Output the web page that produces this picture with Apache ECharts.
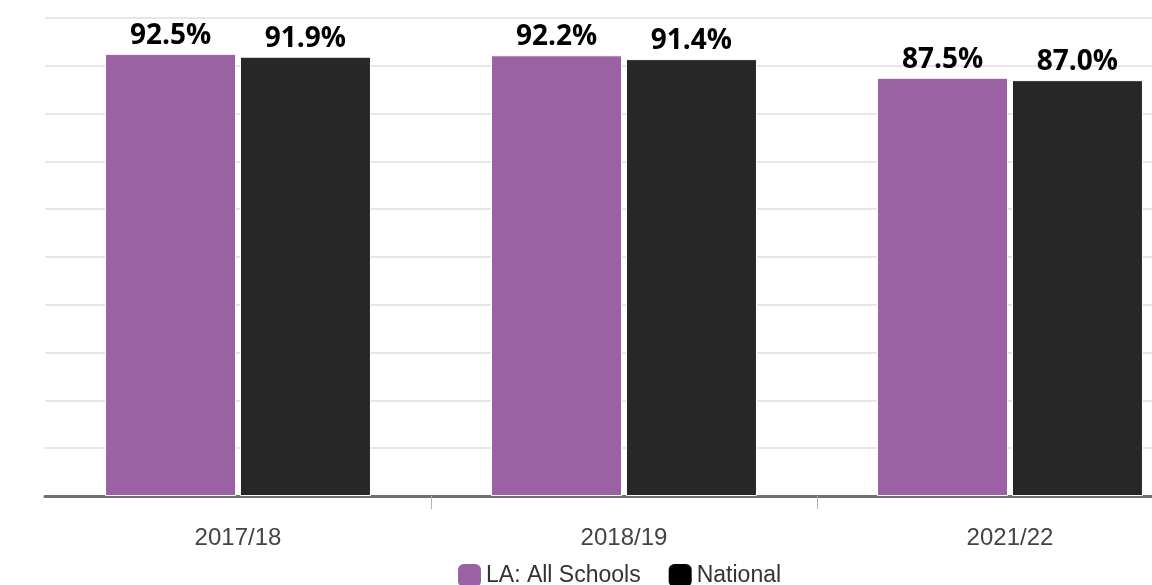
<!DOCTYPE html>
<html>
<head>
<meta charset="utf-8">
<script src="https://cdn.jsdelivr.net/npm/echarts@6/dist/echarts.min.js"></script>
<style>html,body{margin:0;padding:0;background:#fff;overflow:hidden;}#c{width:1210px;height:585px;}</style>
</head>
<body>
<div id="c"></div>
<script>
const categories = ['2017/18', '2018/19', '2021/22'];
const laValues = [92.5, 92.2, 87.5];
const nationalValues = [91.9, 91.4, 87.0];
const seriesNames = ['LA: All Schools', 'National'];

const chart = echarts.init(document.getElementById('c'), null, {renderer: 'canvas'});
const labelCfg = {
  show: true,
  position: 'top',
  distance: 4,
  fontFamily: 'Open Sans',
  fontWeight: 'bold',
  fontSize: 28,
  color: '#000',
  formatter: p => p.value.toFixed(1) + '%'
};
chart.setOption({
  animation: false,
  backgroundColor: '#fff',
  grid: {left: 45, top: 18, right: 7, height: 478, containLabel: false},
  legend: {
    left: 458, top: 564, padding: 0,
    itemWidth: 23, itemHeight: 23, itemGap: 28,
    icon: 'roundRect',
    textStyle: {fontFamily: 'Liberation Sans', fontSize: 23, color: '#333'},
    data: [
      {name: seriesNames[0], itemStyle: {color: '#9b62a3', borderWidth: 0}},
      {name: seriesNames[1], itemStyle: {color: '#000', borderWidth: 0}}
    ]
  },
  xAxis: {
    type: 'category',
    data: categories,
    axisLine: {lineStyle: {color: '#707070', width: 3}},
    axisTick: {show: true, length: 13, lineStyle: {color: '#a8b6c8', width: 1}, interval: (i) => i !== 0},
    axisLabel: {fontFamily: 'Liberation Sans', fontSize: 24, color: '#444', margin: 30},
    splitLine: {show: false}
  },
  yAxis: {
    type: 'value', min: 0, max: 100, interval: 10,
    axisLabel: {show: false},
    axisLine: {show: false}, axisTick: {show: false},
    splitLine: {lineStyle: {color: '#e6e6e6', width: 2}}
  },
  series: [
    {name: seriesNames[0], type: 'bar', data: laValues, barWidth: 131, barGap: '3%',
     itemStyle: {color: '#9b62a3', borderColor: '#fff', borderWidth: 1}, label: labelCfg},
    {name: seriesNames[1], type: 'bar', data: nationalValues, barWidth: 131, barGap: '3%',
     itemStyle: {color: '#272727', borderColor: '#fff', borderWidth: 1}, label: labelCfg}
  ]
});
</script>
</body>
</html>
